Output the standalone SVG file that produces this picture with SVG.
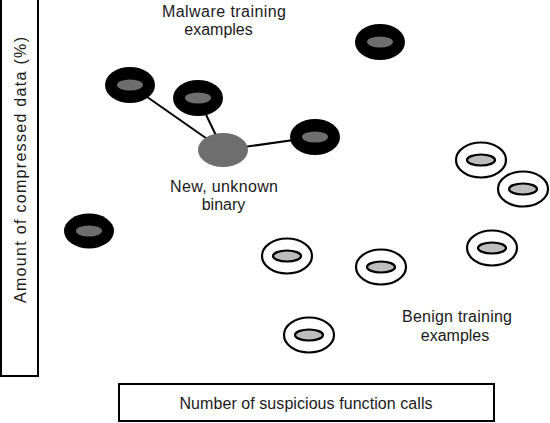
<svg xmlns="http://www.w3.org/2000/svg" width="550" height="423" viewBox="0 0 550 423">
<style>
text{font-family:"Liberation Sans",Arial,sans-serif;font-size:16px;fill:#1a1a1a;text-anchor:middle}
.mo{fill:#000}
.mi{fill:#6e6e6e}
.bo{fill:#fff;stroke:#000;stroke-width:2.2}
.bi{fill:#bdbdbd;stroke:#000;stroke-width:2.2}
.ax{fill:#fff;stroke:#000;stroke-width:2}
.ln{stroke:#000;stroke-width:2;fill:none}
</style>
<g id="axes">
<rect class="ax" x="1" y="-2" width="37" height="378"/>
<text transform="translate(26,170) rotate(-90)" textLength="266" lengthAdjust="spacing">Amount of compressed data (%)</text>
<rect class="ax" x="119" y="384" width="375" height="37"/>
<text x="306" y="409" textLength="253" lengthAdjust="spacing">Number of suspicious function calls</text>
</g>
<g id="connectors">
<line class="ln" x1="130" y1="85" x2="223" y2="150"/>
<line class="ln" x1="198" y1="98" x2="223" y2="150"/>
<line class="ln" x1="315" y1="137" x2="223" y2="150"/>
</g>
<g id="m1"><ellipse class="mo" cx="130" cy="85" rx="25" ry="18"/><ellipse class="mi" cx="130" cy="85" rx="13" ry="5.5"/></g>
<g id="m2"><ellipse class="mo" cx="198" cy="98" rx="25" ry="18"/><ellipse class="mi" cx="198" cy="98" rx="13" ry="5.5"/></g>
<g id="m3"><ellipse class="mo" cx="315" cy="137" rx="25" ry="18"/><ellipse class="mi" cx="315" cy="137" rx="13" ry="5.5"/></g>
<g id="m4"><ellipse class="mo" cx="380" cy="42" rx="25" ry="18"/><ellipse class="mi" cx="380" cy="42" rx="13" ry="5.5"/></g>
<g id="m5"><ellipse class="mo" cx="89" cy="231" rx="25" ry="17.5"/><ellipse class="mi" cx="89" cy="231" rx="13" ry="5.5"/></g>
<g id="new"><ellipse cx="223" cy="150" rx="25" ry="17" fill="#6e6e6e"/></g>
<g id="b1"><ellipse class="bo" cx="481" cy="160" rx="25" ry="17.5"/><ellipse class="bi" cx="481" cy="160" rx="14" ry="5.5"/></g>
<g id="b2"><ellipse class="bo" cx="523" cy="189" rx="25" ry="17.5"/><ellipse class="bi" cx="523" cy="189" rx="14" ry="5.5"/></g>
<g id="b3"><ellipse class="bo" cx="492" cy="248" rx="25" ry="17.5"/><ellipse class="bi" cx="492" cy="248" rx="14" ry="5.5"/></g>
<g id="b4"><ellipse class="bo" cx="287" cy="256" rx="25" ry="17.5"/><ellipse class="bi" cx="287" cy="256" rx="14" ry="5.5"/></g>
<g id="b5"><ellipse class="bo" cx="381" cy="267" rx="25" ry="17.5"/><ellipse class="bi" cx="381" cy="267" rx="14" ry="5.5"/></g>
<g id="b6"><ellipse class="bo" cx="309" cy="335" rx="25" ry="17.5"/><ellipse class="bi" cx="309" cy="335" rx="14" ry="5.5"/></g>
<g id="labels">
<text x="224" y="17" textLength="124" lengthAdjust="spacing">Malware training</text>
<text x="218.5" y="35">examples</text>
<text x="224" y="192" textLength="108" lengthAdjust="spacing">New, unknown</text>
<text x="223.5" y="210">binary</text>
<text x="457" y="322" textLength="110" lengthAdjust="spacing">Benign training</text>
<text x="455" y="341">examples</text>
</g>
</svg>
